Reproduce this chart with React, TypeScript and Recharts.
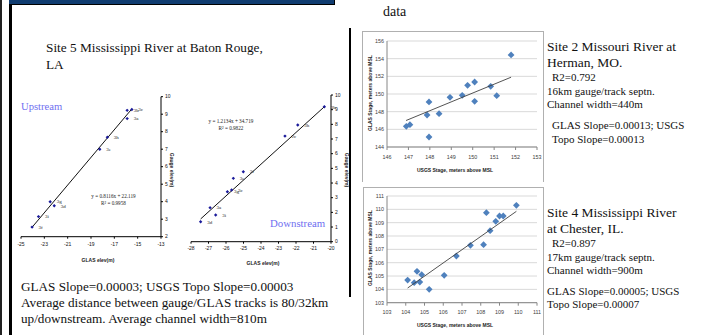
import React from 'react';
import { ScatterChart, Scatter, XAxis, YAxis, CartesianGrid, LabelList } from 'recharts';

// ---- Site 2: Missouri River at Herman, MO. ----
const site2Usgs = [146.9, 147.07, 147.87, 147.96, 147.96, 148.43, 148.94, 149.51, 149.76, 150.09, 150.09, 150.84, 151.12, 151.79];
const site2Glas = [146.34, 146.53, 147.62, 149.1, 145.13, 147.77, 149.62, 149.85, 150.98, 151.36, 149.17, 150.87, 149.81, 154.42];
const site2TrendX = [146.89, 151.79];
const site2TrendY = [147.0, 151.9];
const site2XTicks = [146, 147, 148, 149, 150, 151, 152, 153];
const site2YTicks = [144, 146, 148, 150, 152, 154, 156];

// ---- Site 4: Mississippi River at Chester, IL. ----
const site4Usgs = [104.1, 104.45, 104.6, 104.75, 104.85, 105.25, 106.05, 106.7, 107.45, 108.15, 108.3, 108.5, 108.8, 109.0, 109.2, 109.9];
const site4Glas = [104.7, 104.5, 105.35, 104.55, 105.1, 104.0, 105.05, 106.5, 107.3, 107.35, 109.75, 108.4, 109.1, 109.5, 109.5, 110.3];
const site4TrendX = [104.1, 109.9];
const site4TrendY = [104.1, 109.85];
const site4XTicks = [103, 104, 105, 106, 107, 108, 109, 110, 111];
const site4YTicks = [103, 104, 105, 106, 107, 108, 109, 110, 111];

// ---- Site 5 upstream ----
const upNames = ['3f', '3i', '3g', '3d', '3e', '3h', '3a', '3b', '3c'];
const upGlas = [-24.05, -23.5, -22.5, -22.15, -18.25, -17.6, -15.9, -15.9, -15.5];
const upGauge = [2.55, 3.15, 4.0, 3.77, 7.0, 7.68, 8.75, 9.22, 9.27];
const upTrendX = [-24.1, -15.5];
const upTrendY = [2.5, 9.3];
const upXTicks = [-25, -23, -21, -19, -17, -15, -13];
const upYTicks = [2, 3, 4, 5, 6, 7, 8, 9, 10];

// ---- Site 5 downstream ----
const dnNames = ['3d', '3i', '3a', '3g', '3c', '3e', '3f', '2c', '3h', '3b'];
const dnGlas = [-27.45, -26.59, -26.91, -25.92, -25.68, -25.58, -25.01, -22.63, -21.9, -20.38];
const dnGauge = [1.36, 1.82, 2.32, 3.41, 3.52, 4.32, 4.77, 7.2, 7.95, 9.2];
const dnTrendX = [-27.45, -20.38];
const dnTrendY = [1.55, 9.2];
const dnXTicks = [-28, -27, -26, -25, -24, -23, -22, -21, -20];
const dnYTicks = [0, 1, 2, 3, 4, 5, 6, 7, 8, 9, 10];

const zip = (xs: number[], ys: number[], names?: string[]) =>
  xs.map((x, i) => ({ x, y: ys[i], name: names ? names[i] : '' }));

const Diamond = (p: any) => {
  const { cx, cy } = p;
  const r = 3.4;
  return <path d={`M${cx},${cy - r}L${cx + r},${cy}L${cx},${cy + r}L${cx - r},${cy}Z`} fill="#4f81bd" />;
};
const SmallPt = (p: any) => {
  const { cx, cy } = p;
  const r = 1.7;
  return <path d={`M${cx},${cy - r}L${cx + r},${cy}L${cx},${cy + r}L${cx - r},${cy}Z`} fill="#1a1a9a" />;
};
const NoPt = () => <g />;

const serif = '"Liberation Serif", "Times New Roman", serif';
const sans = '"Liberation Sans", Arial, sans-serif';

const T = ({ x, y, fs, children, color, bold, family }: any) => (
  <div
    style={{
      position: 'absolute',
      left: x,
      top: y - fs / 2,
      fontSize: fs,
      lineHeight: `${fs}px`,
      whiteSpace: 'nowrap',
      fontFamily: family || serif,
      color: color || '#111',
      fontWeight: bold ? 'bold' : 'normal',
    }}
  >
    {children}
  </div>
);

const RotT = ({ cx, cy, fs, children, angle }: any) => (
  <div style={{ position: 'absolute', left: cx, top: cy, width: 0, height: 0 }}>
    <div
      style={{
        position: 'absolute',
        left: 0,
        top: 0,
        transform: `translate(-50%, -50%) rotate(${angle}deg)`,
        fontSize: fs,
        lineHeight: `${fs}px`,
        whiteSpace: 'nowrap',
        fontFamily: sans,
        fontWeight: 'bold',
        color: '#222',
      }}
    >
      {children}
    </div>
  </div>
);

const CT = ({ cx, cy, fs, children, family, bold }: any) => (
  <div style={{ position: 'absolute', left: cx, top: cy, width: 0, height: 0 }}>
    <div
      style={{
        position: 'absolute',
        left: 0,
        top: 0,
        transform: 'translate(-50%, -50%)',
        fontSize: fs,
        lineHeight: `${fs}px`,
        whiteSpace: 'nowrap',
        fontFamily: family || sans,
        fontWeight: bold ? 'bold' : 'normal',
        color: '#222',
      }}
    >
      {children}
    </div>
  </div>
);

const rightAxisStyle = {
  axisLine: { stroke: '#868686' },
  tickLine: { stroke: '#868686' },
  tick: { fontSize: 5.4, fill: '#404040', fontFamily: sans },
};
const leftAxisStyle = {
  axisLine: { stroke: '#000' },
  tickLine: { stroke: '#000' },
  tick: { fontSize: 5, fill: '#111', fontFamily: sans },
};

export default function App() {
  const s2 = zip(site2Usgs, site2Glas);
  const s2t = zip(site2TrendX, site2TrendY);
  const s4 = zip(site4Usgs, site4Glas);
  const s4t = zip(site4TrendX, site4TrendY);
  const up = zip(upGlas, upGauge, upNames);
  const upt = zip(upTrendX, upTrendY);
  const dn = zip(dnGlas, dnGauge, dnNames);
  const dnt = zip(dnTrendX, dnTrendY);

  return (
    <div
      style={{
        position: 'absolute',
        left: 0,
        top: 0,
        width: 702,
        height: 335,
        overflow: 'hidden',
        background: '#fff',
        fontFamily: serif,
      }}
    >
      {/* slide frame pieces */}
      <div style={{ position: 'absolute', left: 0, top: 0, width: 1.5, height: 335, background: '#222' }} />
      <div style={{ position: 'absolute', left: 9, top: 0, width: 2.5, height: 335, background: '#000' }} />
      <div
        style={{
          position: 'absolute',
          left: 9,
          top: 0,
          width: 325,
          height: 3.5,
          background: '#103c70',
          borderBottom: '1.5px solid #000',
          borderRight: '1.5px solid #000',
        }}
      />
      <div style={{ position: 'absolute', left: 349, top: 28, width: 2, height: 269, background: '#000' }} />

      <T x={383} y={12} fs={14}>data</T>

      {/* left panel texts */}
      <T x={46} y={48} fs={13.3}>Site 5 Mississippi River at Baton Rouge,</T>
      <T x={46} y={65} fs={13.3}>LA</T>
      <T x={21} y={107} fs={10.6} color="#6f6ff0">Upstream</T>
      <T x={270} y={223} fs={10.8} color="#6f6ff0">Downstream</T>

      <T x={21} y={287} fs={13.2}>GLAS Slope=0.00003; USGS Topo Slope=0.00003</T>
      <T x={21} y={303} fs={13.2}>Average distance between gauge/GLAS tracks is 80/32km</T>
      <T x={21} y={319} fs={13.2}>up/downstream. Average channel width=810m</T>

      {/* Upstream chart */}
      <div style={{ position: 'absolute', left: 0, top: 85 }}>
        <ScatterChart width={182} height={180} margin={{ top: 11.7, right: 9, bottom: 13.3, left: 21 }}>
          <XAxis
            type="number"
            dataKey="x"
            domain={[-25, -13]}
            ticks={upXTicks}
            interval={0}
            height={15}
            tickSize={2}
            tickMargin={4}
            {...leftAxisStyle}
          />
          <YAxis
            type="number"
            dataKey="y"
            orientation="right"
            domain={[2, 10]}
            ticks={upYTicks}
            interval={0}
            width={12}
            tickSize={2}
            {...leftAxisStyle}
          />
          <Scatter data={upt} line={{ stroke: '#111', strokeWidth: 1 }} shape={NoPt} isAnimationActive={false} />
          <Scatter data={up} shape={SmallPt} isAnimationActive={false}>
            <LabelList dataKey="name" position="right" offset={2} style={{ fontSize: 5, fill: '#222', fontFamily: serif }} />
          </Scatter>
        </ScatterChart>
      </div>
      <CT cx={113.5} cy={197} fs={5.2} family={serif}>y = 0.8116x + 22.119</CT>
      <CT cx={113.5} cy={204} fs={5.2} family={serif}>R² = 0.9958</CT>
      <CT cx={98} cy={260} fs={5} bold>GLAS elev(m)</CT>
      <RotT cx={171} cy={170} fs={5} angle={90}>Gauge elev(m)</RotT>

      {/* Downstream chart */}
      <div style={{ position: 'absolute', left: 170, top: 85 }}>
        <ScatterChart width={180} height={180} margin={{ top: 10, right: 7, bottom: 8.3, left: 21 }}>
          <XAxis
            type="number"
            dataKey="x"
            domain={[-28, -20]}
            ticks={dnXTicks}
            interval={0}
            height={15}
            tickSize={2}
            tickMargin={3}
            {...leftAxisStyle}
          />
          <YAxis
            type="number"
            dataKey="y"
            orientation="right"
            domain={[0, 10]}
            ticks={dnYTicks}
            interval={0}
            width={12}
            tickSize={2}
            {...leftAxisStyle}
          />
          <Scatter data={dnt} line={{ stroke: '#111', strokeWidth: 1 }} shape={NoPt} isAnimationActive={false} />
          <Scatter data={dn} shape={SmallPt} isAnimationActive={false}>
            <LabelList dataKey="name" position="right" offset={2} style={{ fontSize: 5, fill: '#222', fontFamily: serif }} />
          </Scatter>
        </ScatterChart>
      </div>
      <CT cx={231} cy={121.7} fs={5.2} family={serif}>y = 1.2134x + 34.719</CT>
      <CT cx={231} cy={129.3} fs={5.2} family={serif}>R² = 0.9822</CT>
      <CT cx={263} cy={263} fs={5} bold>GLAS elev(m)</CT>
      <RotT cx={346} cy={170} fs={5} angle={90}>Gauge elev(m)</RotT>

      {/* Site 2 chart box */}
      <div
        style={{
          position: 'absolute',
          left: 362,
          top: 31,
          width: 180,
          height: 150,
          borderLeft: '1px solid #b0b0b0',
          borderTop: '1px solid #b0b0b0',
          borderRight: '1px solid #b0b0b0',
        }}
      />
      <div style={{ position: 'absolute', left: 362, top: 31 }}>
        <ScatterChart width={182} height={148} margin={{ top: 10, right: 7, bottom: 12, left: 0 }}>
          <CartesianGrid vertical={false} stroke="#d9d9d9" />
          <XAxis
            type="number"
            dataKey="x"
            domain={[146, 153]}
            ticks={site2XTicks}
            interval={0}
            height={20}
            tickSize={3}
            tickMargin={5}
            {...rightAxisStyle}
          />
          <YAxis
            type="number"
            dataKey="y"
            domain={[144, 156]}
            ticks={site2YTicks}
            interval={0}
            width={25}
            tickSize={0}
            tickMargin={3}
            {...rightAxisStyle}
          />
          <Scatter data={s2} shape={Diamond} isAnimationActive={false} />
          <Scatter data={s2t} line={{ stroke: '#404040', strokeWidth: 0.9 }} shape={NoPt} isAnimationActive={false} />
        </ScatterChart>
      </div>
      <CT cx={455} cy={170} fs={5} bold>USGS Stage, meters above MSL</CT>
      <RotT cx={370} cy={93} fs={5} angle={-90}>GLAS Stage, meters above MSL</RotT>

      {/* Site 4 chart box */}
      <div
        style={{
          position: 'absolute',
          left: 363,
          top: 187,
          width: 179,
          height: 160,
          border: '1px solid #b0b0b0',
        }}
      />
      <div style={{ position: 'absolute', left: 363, top: 187 }}>
        <ScatterChart width={181} height={148} margin={{ top: 9, right: 7, bottom: 12.3, left: 0 }}>
          <CartesianGrid vertical={false} stroke="#d9d9d9" />
          <XAxis
            type="number"
            dataKey="x"
            domain={[103, 111]}
            ticks={site4XTicks}
            interval={0}
            height={20}
            tickSize={3}
            tickMargin={4}
            {...rightAxisStyle}
          />
          <YAxis
            type="number"
            dataKey="y"
            domain={[103, 111]}
            ticks={site4YTicks}
            interval={0}
            width={24}
            tickSize={0}
            tickMargin={3}
            {...rightAxisStyle}
          />
          <Scatter data={s4} shape={Diamond} isAnimationActive={false} />
          <Scatter data={s4t} line={{ stroke: '#404040', strokeWidth: 0.9 }} shape={NoPt} isAnimationActive={false} />
        </ScatterChart>
      </div>
      <CT cx={455} cy={325} fs={5} bold>USGS Stage, meters above MSL</CT>
      <RotT cx={369.5} cy={248} fs={5} angle={-90}>GLAS Stage, meters above MSL</RotT>

      {/* right texts */}
      <T x={547} y={47} fs={13.5}>Site 2 Missouri River at</T>
      <T x={547} y={63} fs={13.5}>Herman, MO.</T>
      <T x={552} y={77} fs={11}>R2=0.792</T>
      <T x={547} y={91} fs={11}>16km gauge/track septn.</T>
      <T x={547} y={104} fs={11}>Channel width=440m</T>
      <T x={552} y={125} fs={11}>GLAS Slope=0.00013; USGS</T>
      <T x={552} y={139} fs={11}>Topo Slope=0.00013</T>

      <T x={547} y={213} fs={13.5}>Site 4 Mississippi River</T>
      <T x={547} y={229} fs={13.5}>at Chester, IL.</T>
      <T x={552} y={243} fs={11}>R2=0.897</T>
      <T x={547} y={257} fs={11}>17km gauge/track septn.</T>
      <T x={547} y={270} fs={11}>Channel width=900m</T>
      <T x={547} y={291} fs={11}>GLAS Slope=0.00005; USGS</T>
      <T x={547} y={304} fs={11}>Topo Slope=0.00007</T>
    </div>
  );
}
